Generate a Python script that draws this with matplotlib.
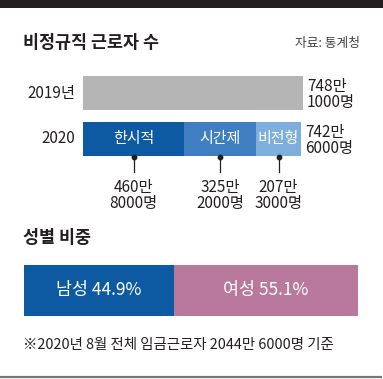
import matplotlib
matplotlib.use("Agg")
import matplotlib.pyplot as plt
from matplotlib.patches import Rectangle

plt.rcParams['font.family'] = ['Noto Sans CJK KR', 'DejaVu Sans']

# data (unit: 만명)
years = ['2019년', '2020']
total_2019 = 748.1
total_2020 = 742.6
total_labels = ['748만\n1000명', '742만\n6000명']
types = ['한시적', '시간제', '비전형']
type_values = [460.8, 325.2, 207.3]
type_labels = ['460만\n8000명', '325만\n2000명', '207만\n3000명']
genders = ['남성', '여성']
gender_share = [44.9, 55.1]

ink = '#231f20'
type_colors = ['#0d5aa2', '#3f7fc1', '#7eaedb']
gender_colors = ['#0d5aa2', '#b9799c']

W, H = 383, 379
fig = plt.figure(figsize=(W / 100, H / 100), dpi=100)
fig.patch.set_facecolor('white')

# background axes in pixel coords for titles / rules
bg = fig.add_axes([0, 0, 1, 1])
bg.set_xlim(0, W)
bg.set_ylim(H, 0)
bg.axis('off')
bg.add_patch(Rectangle((0, 0), W, 8, color=ink, lw=0))
bg.plot([0, W - 1], [377, 377], color='#777777', lw=1.6, solid_capstyle='butt')
bg.text(23, 43, '비정규직 근로자 수', fontsize=12.5, fontweight='bold', color=ink, va='center')
bg.text(360, 43, '자료: 통계청', fontsize=9.2, color='#444444', va='center', ha='right')
bg.text(23, 238, '성별 비중', fontsize=12.5, fontweight='bold', color=ink, va='center')
bg.text(23, 345, '※2020년 8월 전체 임금근로자 2044만 6000명 기준', fontsize=10.4, color=ink, va='center')

# 2019 / 2020 bars
ax = fig.add_axes([83 / W, 1 - 156 / H, 220 / W, 80 / H])
ax.set_xlim(0, total_2019)
ax.set_ylim(1.37, -0.37)
ax.axis('off')

ax.barh(0, total_2019, height=0.74, color='#b5b5b5', lw=0)

# 2020 split drawn as shares of the total
ssum = sum(type_values)
left = 0
for name, v, lab, c in zip(types, type_values, type_labels, type_colors):
    w = v / ssum * total_2020
    ax.barh(1, w, left=left, height=0.74, color=c, lw=0)
    mid = left + w / 2
    ax.text(mid, 1, name, color='white', fontsize=10.8, ha='center', va='center')
    ax.plot([mid, mid], [1.37, 1.72], color=ink, lw=0.9, clip_on=False)
    ax.plot(mid, 1.39, 'o', color=ink, ms=3.2, clip_on=False)
    ax.text(mid, 2.22, lab, color=ink, fontsize=11, ha='center', va='center',
            linespacing=0.92, clip_on=False)
    left += w

for i, yr in enumerate(years):
    ax.text(-8 * total_2019 / 220, i, yr, color=ink, fontsize=11, ha='right', va='center')
totals = [total_2019, total_2020]
for i, lab in enumerate(total_labels):
    ax.text(totals[i] + 4 * total_2019 / 220, i + 0.03, lab, color=ink, fontsize=11,
            ha='left', va='center', linespacing=0.92)

# gender bar
ax2 = fig.add_axes([24 / W, 1 - 316 / H, 334 / W, 51 / H])
ax2.set_xlim(0, 100)
ax2.set_ylim(-0.5, 0.5)
ax2.axis('off')
left = 0
for g, s, c in zip(genders, gender_share, gender_colors):
    ax2.barh(0, s, left=left, height=1, color=c, lw=0)
    ax2.text(left + s / 2, 0, f'{g} {s}%', color='white', fontsize=12.5, ha='center', va='center')
    left += s

fig.savefig('out.png', dpi=100, facecolor='white')
